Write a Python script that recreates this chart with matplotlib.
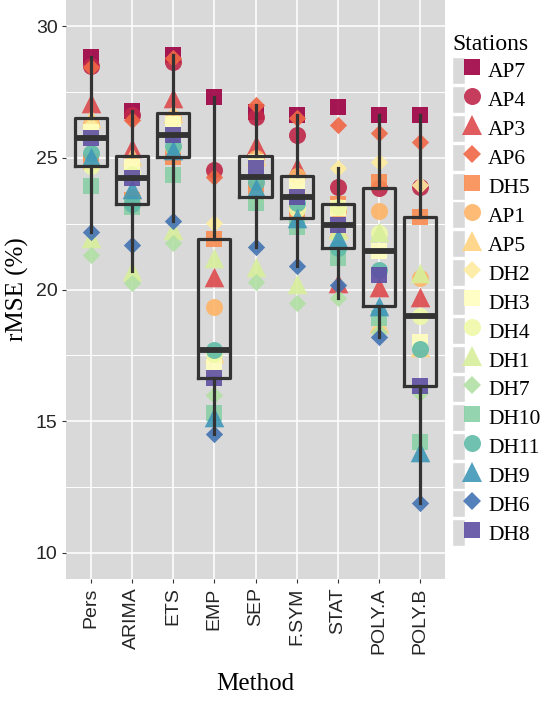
import numpy as np
import matplotlib.pyplot as plt
from matplotlib.colors import to_rgb
from matplotlib.lines import Line2D
from matplotlib.patches import Rectangle
from matplotlib.legend_handler import HandlerTuple

METHODS = ["Pers", "ARIMA", "ETS", "EMP", "SEP", "F.SYM", "STAT", "POLY.A", "POLY.B"]
STATIONS = ["AP7", "AP4", "AP3", "AP6", "DH5", "AP1", "AP5", "DH2", "DH3",
            "DH4", "DH1", "DH7", "DH10", "DH11", "DH9", "DH6", "DH8"]

# rMSE (%) por metodo, en el orden de STATIONS
PERS = [28.82, 28.50, 27.10, 28.45, 24.85, 26.30, 26.50, 26.20, 26.00,
        24.69, 21.95, 21.30, 23.95, 25.20, 25.05, 22.20, 25.75]
ARIMA = [26.78, 26.62, 25.37, 26.43, 23.40, 23.50, 25.07, 24.55, 24.65,
         24.40, 20.72, 20.25, 23.15, 23.24, 23.80, 21.69, 24.25]
ETS = [28.90, 28.63, 27.27, 28.78, 25.03, 26.50, 26.72, 26.00, 26.30,
       25.40, 22.25, 21.76, 24.35, 25.45, 25.30, 22.60, 25.86]
EMP = [27.31, 24.53, 20.47, 24.27, 21.92, 19.34, 17.60, 22.52, 17.06,
       17.55, 21.20, 16.00, 15.30, 17.70, 15.16, 14.50, 16.64]
SEP = [26.74, 26.55, 25.48, 27.00, 23.80, 24.99, 25.07, 24.27, 24.85,
       23.51, 20.85, 20.28, 23.28, 24.08, 23.85, 21.61, 24.60]
FSYM = [26.62, 25.86, 24.65, 26.50, 23.00, 24.30, 23.90, 23.70, 24.04,
        23.05, 20.20, 19.49, 22.37, 23.28, 22.70, 20.90, 23.51]
STAT = [26.93, 23.90, 20.25, 26.24, 23.24, 22.98, 22.35, 24.61, 23.10,
        23.12, 22.26, 19.68, 21.20, 21.57, 21.95, 20.17, 22.45]
POLY_A = [26.62, 23.85, 20.10, 25.94, 24.08, 22.98, 18.73, 24.84, 21.46,
          22.15, 22.20, 18.40, 18.92, 20.74, 19.37, 18.20, 20.55]
POLY_B = [26.62, 23.90, 19.72, 25.60, 22.75, 20.44, 17.80, 23.97, 18.00,
          18.99, 20.63, 16.07, 14.21, 17.74, 13.83, 11.88, 16.34]

SPECTRAL_11 = ["#9E0142", "#D53E4F", "#F46D43", "#FDAE61", "#FEE08B", "#FFFFBF",
               "#E6F598", "#ABDDA4", "#66C2A5", "#3288BD", "#5E4FA2"]
SHAPES = ["s", "o", "^", "D"]
SIZES = {"s": 130, "o": 150, "^": 200, "D": 78}
PANEL = "#D9D9D9"
DARK = "#333333"
SERIF = ["Liberation Serif", "DejaVu Serif"]
SANS = ["Liberation Sans", "DejaVu Sans"]

plt.rcParams.update({
    "font.family": SERIF,
    "font.size": 12,
})


def spectral(n):
    base = np.array([to_rgb(c) for c in SPECTRAL_11])
    src = np.linspace(0, 1, len(base))
    return [tuple(np.interp(t, src, base[:, k]) for k in range(3))
            for t in np.linspace(0, 1, n)]


def main() -> None:
    data = np.array([PERS, ARIMA, ETS, EMP, SEP, FSYM, STAT, POLY_A, POLY_B])
    pos = np.arange(1, len(METHODS) + 1)
    colors = spectral(len(STATIONS))

    fig = plt.figure(figsize=(5.52, 7.02), dpi=100)
    ax = fig.add_axes([66 / 552, 1 - 579 / 702, (445 - 66) / 552, 579 / 702])
    ax.set_facecolor(PANEL)

    handles = []
    for i, name in enumerate(STATIONS):
        mk = SHAPES[i % 4]
        ax.scatter(pos, data[:, i], marker=mk, s=SIZES[mk], color=colors[i],
                   alpha=0.9, linewidths=0, zorder=3 + i * 0.01)
        key = Rectangle((0, 0), 1, 1, facecolor=PANEL, edgecolor="white", linewidth=1)
        dot = Line2D([], [], linestyle="none", marker=mk, markersize=np.sqrt(SIZES[mk]),
                     color=colors[i], alpha=0.9, markeredgewidth=0)
        handles.append((key, dot))

    ax.boxplot(data.T, positions=pos, widths=0.78, whis=1.5, showfliers=False,
               showcaps=False, patch_artist=False, zorder=5,
               boxprops=dict(color=DARK, linewidth=2.3),
               whiskerprops=dict(color=DARK, linewidth=2.3),
               medianprops=dict(color=DARK, linewidth=4.2, solid_capstyle="butt"))

    ax.set_xlim(0.4, len(METHODS) + 0.6)
    ax.set_ylim(9, 31)
    ax.set_yticks([10, 15, 20, 25, 30])
    ax.set_yticks([12.5, 17.5, 22.5, 27.5], minor=True)
    ax.set_xticks(pos)
    ax.set_xticklabels(METHODS, rotation=90)
    for lab in ax.get_xticklabels() + ax.get_yticklabels():
        lab.set_fontfamily(SANS)
        lab.set_fontsize(14)
        lab.set_color("#262626")
    ax.tick_params(which="both", length=3, color=DARK, width=0.8, pad=3)
    ax.tick_params(which="minor", length=0)
    ax.grid(True, which="major", color="white", linewidth=1.1)
    ax.grid(True, which="minor", axis="y", color="white", linewidth=0.7)
    ax.set_axisbelow(True)
    for sp in ax.spines.values():
        sp.set_visible(False)

    ax.set_xlabel("Method", fontsize=18, labelpad=14)
    ax.set_ylabel("rMSE (%)", fontsize=18, labelpad=5)

    fig.legend(handles, STATIONS, handler_map={tuple: HandlerTuple(ndivide=None, pad=0)},
               loc="upper left", bbox_to_anchor=(452 / 552, 1 - 34 / 702),
               frameon=False, fontsize=15.5, title="Stations", title_fontsize=17,
               alignment="left", handlelength=1.25, handleheight=1.55,
               labelspacing=0.09, handletextpad=0.42, borderpad=0, borderaxespad=0)

    fig.savefig("out.png", dpi=100)


if __name__ == "__main__":
    main()
